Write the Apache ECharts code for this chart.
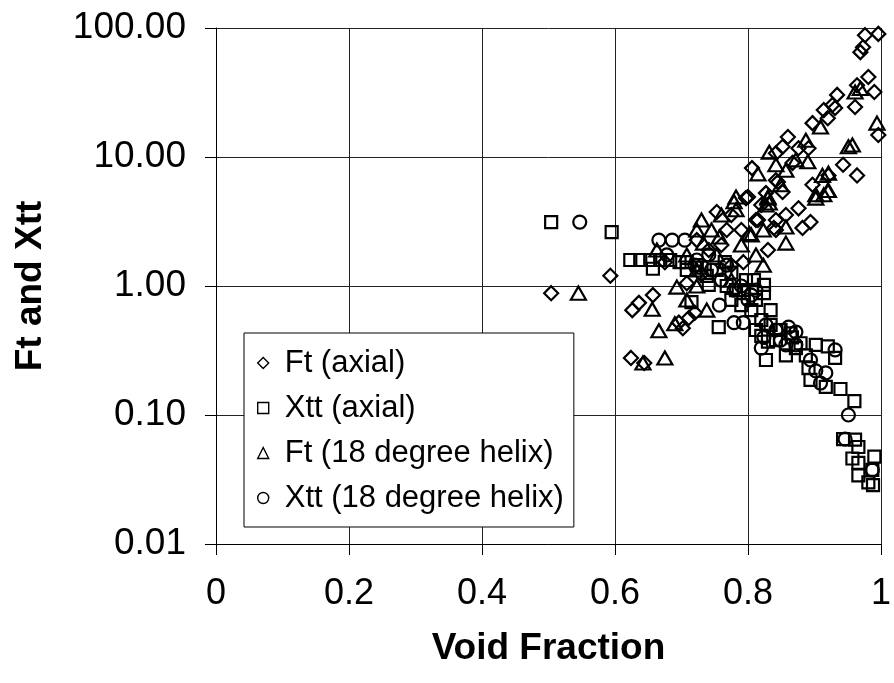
<!DOCTYPE html>
<html>
<head>
<meta charset="utf-8">
<script src="https://cdn.jsdelivr.net/npm/echarts@6/dist/echarts.min.js"></script>
<style>html,body{margin:0;padding:0;background:#fff}#c{width:894px;height:683px}</style>
</head>
<body>
<div id="c"></div>
<script>
var seriesNames = ['Ft (axial)', 'Xtt (axial)', 'Ft (18 degree helix)', 'Xtt (18 degree helix)'];
var xTicks = [0, 0.2, 0.4, 0.6, 0.8, 1];
var yTicks = [0.01, 0.1, 1, 10, 100];

var ftAxial = [
  [0.504,0.88],[0.593,1.20],[0.626,0.65],[0.636,0.74],[0.657,0.85],[0.624,0.277],[0.644,0.253],
  [0.702,0.47],[0.696,0.52],[0.711,0.565],[0.720,0.62],[0.753,3.75],[0.768,2.72],[0.790,2.72],
  [0.797,4.8],[0.812,3.25],[0.830,1.90],[0.842,2.72],[0.842,3.25],[0.793,1.53],[0.876,4.0],
  [0.882,2.82],[0.894,3.13],[0.897,6.1],[0.845,6.4],[0.852,5.35],[0.827,5.25],[0.800,4.9],
  [0.806,8.2],[0.860,14.3],[0.891,11.7],[0.842,10.7],[0.852,12.0],[0.876,11.7],[0.867,9.0],
  [0.943,8.7],[0.964,7.2],[0.934,30.3],[0.927,25.3],[0.914,23.1],[0.931,24],[0.920,20],
  [0.897,18.3],[0.976,88],[0.996,90],[0.969,65],[0.973,71],[0.981,41.7],[0.990,31.9],
  [0.964,36],[0.961,24.4],[0.996,14.8],[0.815,3.25],[0.839,2.82],[0.921,7.2],[0.842,6.6],
  [0.730,1.23],[0.741,1.9],[0.760,2.08],[0.708,1.05],[0.775,1.45],[0.723,2.27],[0.675,1.53],
  [0.775,3.55],[0.820,4.25],[0.857,3.55]
];
var xttAxial = [
  [0.504,3.13],[0.595,2.62],[0.623,1.59],[0.638,1.59],[0.653,1.59],[0.668,1.59],[0.683,1.59],
  [0.697,1.53],[0.657,1.36],[0.715,0.75],[0.824,0.88],[0.756,0.48],[0.827,0.267],[0.857,0.29],
  [0.879,0.36],[0.902,0.35],[0.920,0.34],[0.931,0.277],[0.891,0.231],[0.894,0.187],[0.917,0.165],
  [0.939,0.159],[0.960,0.128],[0.943,0.065],[0.961,0.0645],[0.966,0.0565],[0.957,0.046],
  [0.966,0.0425],[0.990,0.0475],[0.966,0.034],[0.987,0.0375],[0.981,0.030],[0.988,0.0286],
  [0.708,1.33],[0.723,1.45],[0.738,1.2],[0.753,1.33],[0.768,1.0],[0.782,0.93],[0.797,1.11],
  [0.775,0.78],[0.812,0.78],[0.805,0.65],[0.790,0.71],[0.820,0.545],[0.834,0.50],[0.849,0.456],
  [0.864,0.43],[0.842,0.38],[0.872,0.33],[0.887,0.29],[0.834,0.65],[0.820,0.41],
  [0.708,1.53],[0.730,1.39],[0.741,1.02],[0.765,1.53],[0.775,1.27],[0.794,0.93],[0.809,1.11],
  [0.824,1.02],[0.812,0.456],[0.830,0.37],[0.847,0.456],[0.866,0.40]
];
var ftHelix = [
  [0.545,0.88],[0.656,0.66],[0.666,0.45],[0.690,0.51],[0.642,0.253],[0.675,0.277],[0.693,0.98],
  [0.730,3.25],[0.733,2.15],[0.757,2.40],[0.823,1.45],[0.857,2.15],[0.902,4.8],[0.920,5.5],
  [0.779,4.5],[0.782,3.9],[0.805,2.49],[0.823,2.72],[0.830,4.9],[0.832,4.4],[0.738,0.65],
  [0.961,31.9],[0.969,34],[0.909,17.1],[0.994,18.3],[0.951,12.0],[0.957,12.4],[0.832,10.9],
  [0.890,9.2],[0.815,7.4],[0.912,7.2],[0.921,7.5],[0.921,5.5],[0.902,5.1],[0.782,4.9],
  [0.914,5.1],[0.857,2.87],[0.830,4.8],[0.827,4.25],[0.802,2.55],[0.663,1.9],[0.708,1.74],
  [0.723,1.33],[0.753,1.74],[0.775,1.11],[0.708,0.78],[0.723,1.0],[0.842,8.7],[0.857,7.9],
  [0.872,9.5],[0.849,6.1],[0.887,13.5],[0.745,2.72],[0.760,3.55],[0.790,2.08],[0.812,1.74],
  [0.723,2.72]
];
var xttHelix = [
  [0.547,3.13],[0.666,2.27],[0.686,2.27],[0.705,2.27],[0.757,0.71],[0.779,0.52],[0.793,0.52],
  [0.861,0.48],[0.820,0.33],[0.917,0.212],[0.909,0.177],[0.951,0.10],[0.946,0.065],[0.987,0.0375],
  [0.678,1.74],[0.723,1.59],[0.745,1.33],[0.768,1.45],[0.790,1.0],[0.805,0.85],[0.827,0.50],
  [0.842,0.456],[0.872,0.44],[0.857,0.35],[0.894,0.267],[0.902,0.22],[0.931,0.32],
  [0.720,1.45],[0.741,1.74],[0.760,1.11],[0.779,0.93],[0.812,0.93],[0.800,0.78],
  [0.824,0.40],[0.849,0.38],[0.872,0.35]
];

var FONT = 'Liberation Sans, Arial, sans-serif';
var symbols = ['diamond', 'rect', 'triangle', 'circle'];
var sizes = [14, 12, [15, 13], 13];
var datas = [ftAxial, xttAxial, ftHelix, xttHelix];

var chart = echarts.init(document.getElementById('c'));
chart.setOption({
  animation: false,
  backgroundColor: '#fff',
  grid: { left: 216, right: 8, top: 28, bottom: 139, containLabel: false },
  xAxis: {
    type: 'value', min: xTicks[0], max: xTicks[xTicks.length - 1], interval: 0.2,
    name: 'Void Fraction', nameLocation: 'middle', nameGap: 86,
    nameTextStyle: { fontFamily: FONT, fontSize: 37, fontWeight: 'bold', color: '#000' },
    axisLine: { lineStyle: { color: '#000', width: 1 } },
    axisTick: { show: true, length: 11, inside: false, lineStyle: { color: '#000' } },
    axisLabel: { fontFamily: FONT, fontSize: 36, color: '#000', margin: 32,
      formatter: function (v) { return String(Math.round(v * 10) / 10); } },
    splitLine: { show: true, lineStyle: { color: '#222', width: 1 } }
  },
  yAxis: {
    type: 'log', logBase: 10, min: yTicks[0], max: yTicks[yTicks.length - 1],
    name: 'Ft and Xtt', nameLocation: 'middle', nameGap: 167, nameRotate: 90,
    nameTextStyle: { fontFamily: FONT, fontSize: 37, fontWeight: 'bold', color: '#000' },
    axisLine: { show: true, lineStyle: { color: '#000', width: 1 } },
    axisTick: { show: true, length: 11, lineStyle: { color: '#000' } },
    minorTick: { show: false },
    axisLabel: { fontFamily: FONT, fontSize: 37, color: '#000', margin: 30,
      formatter: function (v) { return Number(v).toFixed(2); } },
    splitLine: { show: true, lineStyle: { color: '#222', width: 1 } }
  },
  legend: {
    orient: 'vertical', left: 244, top: 333,
    backgroundColor: '#fff', borderColor: '#000', borderWidth: 1,
    padding: [11, 10, 10, 13], itemGap: 7, itemWidth: 11, itemHeight: 11,
    textStyle: { fontFamily: FONT, fontSize: 31, color: '#000', lineHeight: 38, padding: [0, 0, 0, 11] },
    data: seriesNames.map(function (n, i) {
      return { name: n, icon: symbols[i], itemStyle: { color: '#fff', borderColor: '#000', borderWidth: 1.4 } };
    })
  },
  series: datas.map(function (d, i) {
    return {
      name: seriesNames[i], type: 'scatter', data: d,
      symbol: symbols[i], symbolSize: sizes[i],
      itemStyle: { color: 'rgba(255,255,255,0)', borderColor: '#000', borderWidth: 2.2, opacity: 1 },
      emphasis: { disabled: true }
    };
  })
});
</script>
</body>
</html>
